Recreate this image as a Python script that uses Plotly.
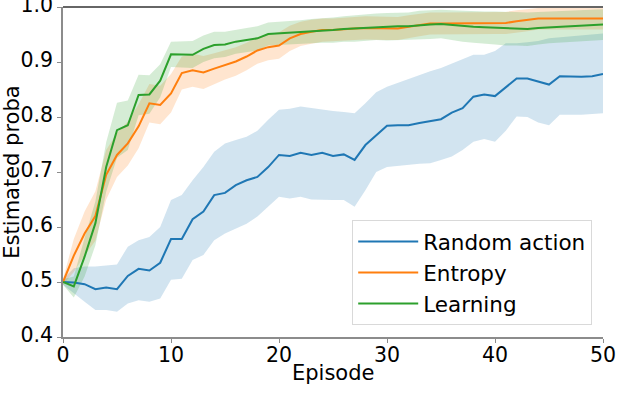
import plotly.graph_objects as go

episodes = list(range(51))

random_mean = [0.500, 0.499, 0.496, 0.487, 0.490, 0.487, 0.511, 0.524, 0.521, 0.535,
               0.578, 0.578, 0.614, 0.628, 0.658, 0.662, 0.676, 0.685, 0.691, 0.709,
               0.731, 0.729, 0.735, 0.731, 0.735, 0.729, 0.732, 0.722, 0.749, 0.767,
               0.784, 0.785, 0.785, 0.789, 0.792, 0.796, 0.808, 0.816, 0.837, 0.841,
               0.838, 0.854, 0.870, 0.870, 0.865, 0.859, 0.874, 0.873, 0.873, 0.874, 0.878]
random_upper = [0.505, 0.525, 0.528, 0.528, 0.530, 0.532, 0.564, 0.576, 0.582, 0.600,
                0.649, 0.658, 0.685, 0.709, 0.737, 0.752, 0.758, 0.764, 0.775, 0.795,
                0.813, 0.815, 0.819, 0.816, 0.813, 0.811, 0.809, 0.807, 0.825, 0.845,
                0.855, 0.862, 0.870, 0.876, 0.883, 0.889, 0.897, 0.904, 0.913, 0.913,
                0.920, 0.934, 0.934, 0.936, 0.938, 0.943, 0.945, 0.947, 0.948, 0.950, 0.952]
random_lower = [0.495, 0.479, 0.464, 0.449, 0.449, 0.446, 0.461, 0.467, 0.464, 0.470,
                0.504, 0.506, 0.540, 0.549, 0.576, 0.588, 0.597, 0.606, 0.619, 0.637,
                0.655, 0.652, 0.655, 0.650, 0.650, 0.649, 0.649, 0.637, 0.667, 0.700,
                0.709, 0.711, 0.713, 0.715, 0.716, 0.722, 0.728, 0.740, 0.755, 0.760,
                0.755, 0.775, 0.801, 0.800, 0.790, 0.785, 0.804, 0.804, 0.804, 0.805, 0.807]

entropy_mean = [0.500, 0.548, 0.588, 0.620, 0.695, 0.731, 0.752, 0.783, 0.825, 0.822,
                0.843, 0.880, 0.885, 0.881, 0.888, 0.895, 0.901, 0.910, 0.921, 0.927,
                0.930, 0.943, 0.951, 0.955, 0.958, 0.958, 0.960, 0.961, 0.962, 0.962,
                0.961, 0.961, 0.964, 0.967, 0.970, 0.970, 0.970, 0.971, 0.971, 0.971,
                0.971, 0.971, 0.974, 0.976, 0.979, 0.979, 0.979, 0.979, 0.979, 0.979, 0.979]
entropy_upper = [0.505, 0.578, 0.628, 0.665, 0.740, 0.771, 0.792, 0.823, 0.860, 0.857,
                 0.878, 0.910, 0.915, 0.911, 0.916, 0.922, 0.927, 0.935, 0.945, 0.951,
                 0.954, 0.966, 0.973, 0.977, 0.979, 0.979, 0.981, 0.982, 0.983, 0.983,
                 0.982, 0.982, 0.985, 0.988, 0.990, 0.990, 0.990, 0.991, 0.991, 0.991,
                 0.991, 0.991, 0.994, 0.996, 0.998, 0.998, 0.998, 0.998, 0.998, 0.998, 0.998]
entropy_lower = [0.495, 0.518, 0.548, 0.575, 0.650, 0.691, 0.712, 0.743, 0.790, 0.787,
                 0.808, 0.850, 0.855, 0.851, 0.860, 0.868, 0.875, 0.885, 0.897, 0.903,
                 0.906, 0.920, 0.929, 0.933, 0.937, 0.937, 0.939, 0.940, 0.941, 0.941,
                 0.940, 0.940, 0.944, 0.947, 0.950, 0.950, 0.950, 0.951, 0.951, 0.951,
                 0.951, 0.951, 0.954, 0.956, 0.959, 0.959, 0.959, 0.959, 0.959, 0.959, 0.959]

learning_mean = [0.500, 0.492, 0.546, 0.607, 0.709, 0.776, 0.785, 0.840, 0.841, 0.866,
                 0.914, 0.913, 0.913, 0.924, 0.931, 0.932, 0.937, 0.940, 0.943, 0.951,
                 0.952, 0.953, 0.955, 0.956, 0.957, 0.958, 0.960, 0.961, 0.962, 0.964,
                 0.964, 0.965, 0.965, 0.967, 0.968, 0.969, 0.967, 0.965, 0.964, 0.963,
                 0.962, 0.961, 0.960, 0.960, 0.962, 0.963, 0.964, 0.965, 0.966, 0.967, 0.968]
learning_upper = [0.505, 0.510, 0.580, 0.647, 0.754, 0.826, 0.830, 0.877, 0.876, 0.896,
                  0.937, 0.937, 0.938, 0.948, 0.955, 0.955, 0.959, 0.962, 0.965, 0.972,
                  0.973, 0.974, 0.976, 0.978, 0.979, 0.981, 0.983, 0.985, 0.986, 0.988,
                  0.989, 0.990, 0.990, 0.993, 0.994, 0.995, 0.994, 0.993, 0.993, 0.992,
                  0.992, 0.991, 0.990, 0.990, 0.991, 0.992, 0.993, 0.994, 0.995, 0.995, 0.996]
learning_lower = [0.495, 0.472, 0.510, 0.567, 0.664, 0.726, 0.740, 0.803, 0.806, 0.836,
                  0.891, 0.890, 0.889, 0.900, 0.907, 0.909, 0.915, 0.918, 0.921, 0.930,
                  0.931, 0.932, 0.934, 0.934, 0.935, 0.935, 0.937, 0.937, 0.938, 0.940,
                  0.939, 0.940, 0.940, 0.941, 0.942, 0.943, 0.940, 0.937, 0.935, 0.933,
                  0.932, 0.930, 0.930, 0.929, 0.932, 0.934, 0.935, 0.936, 0.937, 0.939, 0.940]

series_names = ["Random action", "Entropy", "Learning"]
x_ticks = [0, 10, 20, 30, 40, 50]
y_ticks = [0.4, 0.5, 0.6, 0.7, 0.8, 0.9, 1.0]
x_title = "Episode"
y_title = "Estimated proba"

colors = ["#1f77b4", "#ff7f0e", "#2ca02c"]
fills = ["rgba(31,119,180,0.2)", "rgba(255,127,14,0.2)", "rgba(44,160,44,0.2)"]

series = [
    (random_mean, random_upper, random_lower),
    (entropy_mean, entropy_upper, entropy_lower),
    (learning_mean, learning_upper, learning_lower),
]

fig = go.Figure()
for i, (m, up, lo) in enumerate(series):
    fig.add_trace(go.Scatter(
        x=episodes + episodes[::-1], y=up + lo[::-1],
        fill="toself", fillcolor=fills[i], line=dict(width=0),
        mode="lines", showlegend=False, hoverinfo="skip"))
for i, (m, up, lo) in enumerate(series):
    fig.add_trace(go.Scatter(
        x=episodes, y=m, mode="lines", name=series_names[i],
        line=dict(color=colors[i], width=2), legendgroup=series_names[i]))

font = dict(family="DejaVu Sans", size=21, color="#000000")
tickfont = dict(family="DejaVu Sans", size=20.5, color="#000000")

fig.update_layout(
    width=640, height=418,
    margin=dict(l=63, r=37, t=7, b=81),
    paper_bgcolor="white", plot_bgcolor="white",
    font=font,
    showlegend=True,
    legend=dict(
        x=0.98, y=0.036, xanchor="right", yanchor="bottom",
        bgcolor="white", bordercolor="#d9d9d9", borderwidth=1,
        font=dict(family="DejaVu Sans", size=21.5, color="#000000"),
        traceorder="grouped", tracegroupgap=0,
        itemwidth=60,
    ),
    xaxis=dict(
        range=[0, 50], tickvals=x_ticks, ticktext=[str(t) for t in x_ticks],
        showgrid=False, zeroline=False, automargin=False,
        showline=True, linecolor="#8c8c8c", linewidth=1.5,
        ticks="outside", ticklen=4, tickcolor="#8c8c8c", tickwidth=1,
        tickfont=tickfont, ticklabeloverflow="allow", ticklabelstandoff=-5,
    ),
    yaxis=dict(
        range=[0.4, 1.0], tickvals=y_ticks, ticktext=["%.1f" % t for t in y_ticks],
        showgrid=False, zeroline=False, automargin=False,
        showline=True, linecolor="#8c8c8c", linewidth=1.5,
        ticks="outside", ticklen=4, tickcolor="#8c8c8c", tickwidth=1,
        title=dict(text=y_title, standoff=2, font=font),
        tickfont=tickfont, ticklabeloverflow="allow", ticklabelshift=-2,
    ),
    shapes=[dict(type="line", xref="paper", yref="paper", x0=0, x1=1, y0=1, y1=1,
                 line=dict(color="#333333", width=1.5))],
    annotations=[dict(text=x_title, xref="paper", yref="paper", x=0.5, y=0,
                      xanchor="center", yanchor="top", yshift=-22,
                      showarrow=False, font=font)],
)

# remove the default 8px page margin so the figure sits at the window origin
fig.write_html("out.html", config={"displayModeBar": False},
               post_script="document.body.style.margin='0px';")
